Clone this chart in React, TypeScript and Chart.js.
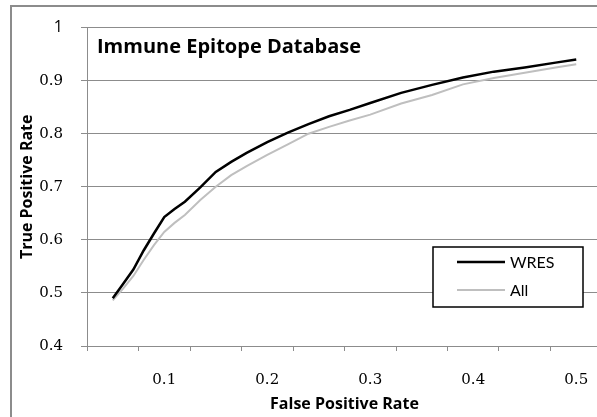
import React, { useEffect, useRef } from "react";
import { Chart, registerables } from "chart.js";

Chart.register(...registerables);

// ---- data ----
const FPR = [0.05, 0.06, 0.07, 0.08, 0.09, 0.1, 0.11, 0.12, 0.135, 0.15, 0.165, 0.18, 0.2, 0.22, 0.24, 0.26, 0.28, 0.3, 0.33, 0.36, 0.39, 0.42, 0.45, 0.48, 0.5];
const WRES = [0.49, 0.517, 0.544, 0.58, 0.612, 0.643, 0.658, 0.672, 0.699, 0.728, 0.747, 0.764, 0.784, 0.802, 0.818, 0.833, 0.845, 0.858, 0.877, 0.892, 0.906, 0.917, 0.925, 0.934, 0.94];
const ALL = [0.486, 0.508, 0.532, 0.562, 0.59, 0.615, 0.632, 0.647, 0.675, 0.7, 0.722, 0.739, 0.76, 0.78, 0.8, 0.813, 0.825, 0.836, 0.857, 0.873, 0.893, 0.905, 0.915, 0.925, 0.931];
const SERIES_NAMES = ["WRES", "All"];
const X_LABEL_TICKS = [0.1, 0.2, 0.3, 0.4, 0.5];
const X_MARK_TICKS = [0.025, 0.075, 0.125, 0.175, 0.225, 0.275, 0.325, 0.375, 0.425, 0.475, 0.525];
const Y_TICKS = [0.4, 0.5, 0.6, 0.7, 0.8, 0.9, 1];
const CHART_TITLE = "Immune Epitope Database";
const X_TITLE = "False Positive Rate";
const Y_TITLE = "True Positive Rate";

const GRID = "#8c8c8c";
const TICK_FONT = { family: "'DejaVu Serif', serif", size: 15 };
const TITLE_FONT = { family: "'Open Sans', sans-serif", size: 16, weight: "bold" as const };

const insetPlugin = {
  id: "insetTitleLegend",
  afterDatasetsDraw(chart: any) {
    const { ctx, chartArea } = chart;
    ctx.save();
    ctx.fillStyle = "#000";
    ctx.textBaseline = "middle";
    ctx.textAlign = "left";
    ctx.font = "bold 20px 'Open Sans', sans-serif";
    ctx.fillText(CHART_TITLE, chartArea.left + 10, chartArea.top + 20);

    const w = 150;
    const h = 60;
    const x0 = chartArea.right - 19 - w;
    const y0 = chartArea.bottom - 39 - h;
    ctx.fillStyle = "#fff";
    ctx.fillRect(x0, y0, w, h);
    ctx.strokeStyle = "#000";
    ctx.lineWidth = 1.5;
    ctx.strokeRect(x0, y0, w, h);
    ctx.font = "16px Lato, sans-serif";
    chart.data.datasets.forEach((ds: any, i: number) => {
      const cy = y0 + 15 + i * 28;
      ctx.strokeStyle = ds.borderColor;
      ctx.lineWidth = ds.borderWidth;
      ctx.beginPath();
      ctx.moveTo(x0 + 24, cy);
      ctx.lineTo(x0 + 72, cy);
      ctx.stroke();
      ctx.fillStyle = "#000";
      ctx.fillText(ds.label, x0 + 77, cy + 1);
    });
    ctx.restore();
  },
};

export default function App() {
  const ref = useRef<HTMLCanvasElement | null>(null);

  useEffect(() => {
    if (!ref.current) return;
    const chart = new Chart(ref.current, {
      type: "line",
      data: {
        datasets: [
          {
            label: SERIES_NAMES[0],
            data: FPR.map((x, i) => ({ x, y: WRES[i] })),
            borderColor: "#000000",
            borderWidth: 2.5,
            pointRadius: 0,
            tension: 0,
            xAxisID: "x",
            yAxisID: "y",
          },
          {
            label: SERIES_NAMES[1],
            data: FPR.map((x, i) => ({ x, y: ALL[i] })),
            borderColor: "#bfbfbf",
            borderWidth: 2,
            pointRadius: 0,
            tension: 0,
            xAxisID: "x",
            yAxisID: "y",
          },
        ],
      },
      options: {
        animation: false,
        responsive: false,
        layout: { padding: { left: 0, top: 20, right: 18, bottom: 0 } },
        plugins: { legend: { display: false }, tooltip: { enabled: false } },
        scales: {
          x: {
            type: "linear",
            position: "bottom",
            weight: 0,
            min: 0.025,
            max: 0.525,
            afterBuildTicks: (s: any) => {
              s.ticks = X_MARK_TICKS.map((v) => ({ value: v }));
            },
            afterFit: (s: any) => {
              s.height = 5;
            },
            grid: { drawOnChartArea: false, drawTicks: true, tickLength: 5, color: GRID },
            border: { color: GRID, width: 1 },
            ticks: { display: false },
          },
          x2: {
            type: "linear",
            axis: "x",
            position: "bottom",
            weight: 1,
            min: 0.025,
            max: 0.525,
            afterBuildTicks: (s: any) => {
              s.ticks = X_LABEL_TICKS.map((v) => ({ value: v }));
            },
            afterFit: (s: any) => {
              s.height = 66;
            },
            grid: { display: false, drawTicks: false },
            border: { display: false },
            ticks: {
              padding: 20,
              maxRotation: 0,
              autoSkip: false,
              color: "#000",
              font: TICK_FONT,
              callback: (v: any) => Number(v).toFixed(1),
            },
            title: { display: true, text: X_TITLE, color: "#000", font: TITLE_FONT, padding: { top: 0, bottom: 3 } },
          },
          y: {
            type: "linear",
            min: 0.4,
            max: 1,
            afterBuildTicks: (s: any) => {
              s.ticks = Y_TICKS.map((v) => ({ value: v }));
            },
            afterFit: (s: any) => {
              s.width = 87;
            },
            grid: { color: GRID, lineWidth: 1, drawTicks: true, tickLength: 6 },
            border: { color: GRID, width: 1 },
            ticks: {
              padding: 18,
              color: "#000",
              font: (c: any) =>
                c.tick && c.tick.value === 1
                  ? { family: "'Open Sans', sans-serif", size: 16 }
                  : TICK_FONT,
              callback: (v: any) => (Number(v) === 1 ? "1" : Number(v).toFixed(1)),
            },
            title: { display: true, text: Y_TITLE, color: "#000", font: TITLE_FONT, padding: { top: 18, bottom: 0 } },
          },
        },
      },
      plugins: [insetPlugin],
    });
    return () => chart.destroy();
  }, []);

  return (
    <div style={{ position: "absolute", left: 0, top: 0, width: 597, height: 417, overflow: "hidden", background: "#fff" }}>
      <div
        style={{
          position: "absolute",
          left: 10,
          top: 5,
          width: 1200,
          height: 1000,
          borderLeft: "2px solid #8c8c8c",
          borderTop: "2px solid #8c8c8c",
          boxSizing: "border-box",
        }}
      />
      <canvas ref={ref} width={620} height={417} style={{ position: "absolute", left: 0, top: 0, width: 620, height: 417 }} />
    </div>
  );
}
